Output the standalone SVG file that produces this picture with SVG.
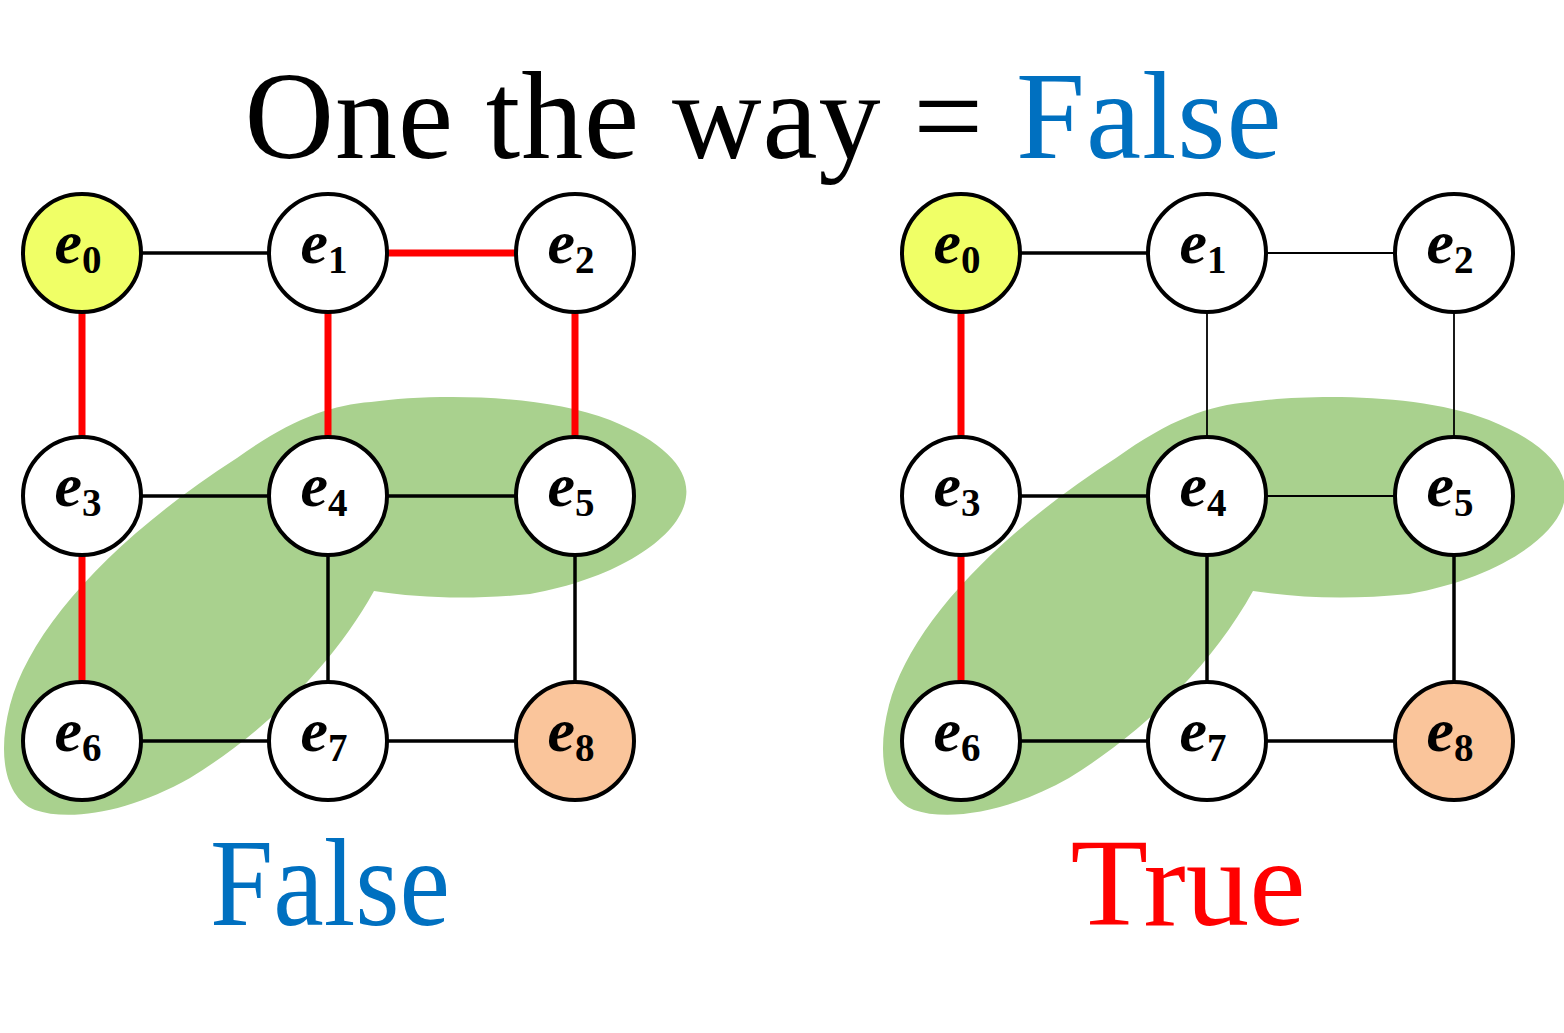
<svg xmlns="http://www.w3.org/2000/svg" width="1564" height="1033" viewBox="0 0 1564 1033">
<style>
.blob{fill:#A9D18E}
.node{fill:#FFFFFF;stroke:#000;stroke-width:4}
.start{fill:#F0FF66}
.goal{fill:#FAC59B}
.blk{stroke:#000;stroke-width:3.5;fill:none}
.thin{stroke:#000;stroke-width:1.8;fill:none}
.red{stroke:#FF0000;stroke-width:7;fill:none}
.lbl{font-family:"Liberation Serif","Times New Roman",serif;font-weight:bold;font-size:62px;fill:#000}
.lbl .e{font-style:italic}
.lbl .s{font-size:39px;font-style:normal}
.big{font-family:"Liberation Serif","Times New Roman",serif;font-size:124px}
</style>
<defs>
<path id="blobshape" d="M 237,458 C 290,420 330,405 371,402 C 430,394 540,393 610,420 C 665,442 690,470 686,497 C 682,535 620,578 530,594 C 470,600 420,598 374,591 C 330,670 260,735 190,778 C 130,812 70,822 35,810 C 5,798 -3,755 10,705 C 30,630 110,540 237,458 Z"/>
</defs>
<g id="title">
<text class="big" x="763" y="158" text-anchor="middle" textLength="1037" lengthAdjust="spacing" fill="#000">One the way = <tspan fill="#0070C0">False</tspan></text>
</g>
<g id="blobs">
<use href="#blobshape" class="blob"/>
<use href="#blobshape" class="blob" transform="translate(879,0)"/>
</g>
<g id="connectors">
<line class="blk" x1="82" y1="253" x2="328" y2="253"/>
<line class="red" x1="328" y1="253" x2="575" y2="253"/>
<line class="red" x1="82" y1="253" x2="82" y2="496"/>
<line class="red" x1="328" y1="253" x2="328" y2="496"/>
<line class="red" x1="575" y1="253" x2="575" y2="496"/>
<line class="blk" x1="82" y1="496" x2="328" y2="496"/>
<line class="blk" x1="328" y1="496" x2="575" y2="496"/>
<line class="red" x1="82" y1="496" x2="82" y2="741"/>
<line class="blk" x1="328" y1="496" x2="328" y2="741"/>
<line class="blk" x1="575" y1="496" x2="575" y2="741"/>
<line class="blk" x1="82" y1="741" x2="328" y2="741"/>
<line class="blk" x1="328" y1="741" x2="575" y2="741"/>

<line class="blk" x1="961" y1="253" x2="1207" y2="253"/>
<line class="thin" x1="1207" y1="253" x2="1454" y2="253"/>
<line class="red" x1="961" y1="253" x2="961" y2="496"/>
<line class="thin" x1="1207" y1="253" x2="1207" y2="496"/>
<line class="thin" x1="1454" y1="253" x2="1454" y2="496"/>
<line class="blk" x1="961" y1="496" x2="1207" y2="496"/>
<line class="thin" x1="1207" y1="496" x2="1454" y2="496"/>
<line class="red" x1="961" y1="496" x2="961" y2="741"/>
<line class="blk" x1="1207" y1="496" x2="1207" y2="741"/>
<line class="blk" x1="1454" y1="496" x2="1454" y2="741"/>
<line class="blk" x1="961" y1="741" x2="1207" y2="741"/>
<line class="blk" x1="1207" y1="741" x2="1454" y2="741"/>
</g>
<g id="L-e0"><circle class="node start" cx="82" cy="253" r="59"/><text class="lbl" x="78" y="263" text-anchor="middle"><tspan class="e">e</tspan><tspan class="s" dy="10">0</tspan></text></g>
<g id="L-e1"><circle class="node" cx="328" cy="253" r="59"/><text class="lbl" x="324" y="263" text-anchor="middle"><tspan class="e">e</tspan><tspan class="s" dy="10">1</tspan></text></g>
<g id="L-e2"><circle class="node" cx="575" cy="253" r="59"/><text class="lbl" x="571" y="263" text-anchor="middle"><tspan class="e">e</tspan><tspan class="s" dy="10">2</tspan></text></g>
<g id="L-e3"><circle class="node" cx="82" cy="496" r="59"/><text class="lbl" x="78" y="506" text-anchor="middle"><tspan class="e">e</tspan><tspan class="s" dy="10">3</tspan></text></g>
<g id="L-e4"><circle class="node" cx="328" cy="496" r="59"/><text class="lbl" x="324" y="506" text-anchor="middle"><tspan class="e">e</tspan><tspan class="s" dy="10">4</tspan></text></g>
<g id="L-e5"><circle class="node" cx="575" cy="496" r="59"/><text class="lbl" x="571" y="506" text-anchor="middle"><tspan class="e">e</tspan><tspan class="s" dy="10">5</tspan></text></g>
<g id="L-e6"><circle class="node" cx="82" cy="741" r="59"/><text class="lbl" x="78" y="751" text-anchor="middle"><tspan class="e">e</tspan><tspan class="s" dy="10">6</tspan></text></g>
<g id="L-e7"><circle class="node" cx="328" cy="741" r="59"/><text class="lbl" x="324" y="751" text-anchor="middle"><tspan class="e">e</tspan><tspan class="s" dy="10">7</tspan></text></g>
<g id="L-e8"><circle class="node goal" cx="575" cy="741" r="59"/><text class="lbl" x="571" y="751" text-anchor="middle"><tspan class="e">e</tspan><tspan class="s" dy="10">8</tspan></text></g>

<g id="R-e0"><circle class="node start" cx="961" cy="253" r="59"/><text class="lbl" x="957" y="263" text-anchor="middle"><tspan class="e">e</tspan><tspan class="s" dy="10">0</tspan></text></g>
<g id="R-e1"><circle class="node" cx="1207" cy="253" r="59"/><text class="lbl" x="1203" y="263" text-anchor="middle"><tspan class="e">e</tspan><tspan class="s" dy="10">1</tspan></text></g>
<g id="R-e2"><circle class="node" cx="1454" cy="253" r="59"/><text class="lbl" x="1450" y="263" text-anchor="middle"><tspan class="e">e</tspan><tspan class="s" dy="10">2</tspan></text></g>
<g id="R-e3"><circle class="node" cx="961" cy="496" r="59"/><text class="lbl" x="957" y="506" text-anchor="middle"><tspan class="e">e</tspan><tspan class="s" dy="10">3</tspan></text></g>
<g id="R-e4"><circle class="node" cx="1207" cy="496" r="59"/><text class="lbl" x="1203" y="506" text-anchor="middle"><tspan class="e">e</tspan><tspan class="s" dy="10">4</tspan></text></g>
<g id="R-e5"><circle class="node" cx="1454" cy="496" r="59"/><text class="lbl" x="1450" y="506" text-anchor="middle"><tspan class="e">e</tspan><tspan class="s" dy="10">5</tspan></text></g>
<g id="R-e6"><circle class="node" cx="961" cy="741" r="59"/><text class="lbl" x="957" y="751" text-anchor="middle"><tspan class="e">e</tspan><tspan class="s" dy="10">6</tspan></text></g>
<g id="R-e7"><circle class="node" cx="1207" cy="741" r="59"/><text class="lbl" x="1203" y="751" text-anchor="middle"><tspan class="e">e</tspan><tspan class="s" dy="10">7</tspan></text></g>
<g id="R-e8"><circle class="node goal" cx="1454" cy="741" r="59"/><text class="lbl" x="1450" y="751" text-anchor="middle"><tspan class="e">e</tspan><tspan class="s" dy="10">8</tspan></text></g>

<g id="captions">
<text class="big" x="330" y="925" text-anchor="middle" fill="#0070C0" font-size="118" textLength="240" lengthAdjust="spacingAndGlyphs">False</text>
<text class="big" x="1188" y="925" text-anchor="middle" fill="#FF0000" font-size="118" textLength="235" lengthAdjust="spacingAndGlyphs">True</text>
</g>
</svg>
